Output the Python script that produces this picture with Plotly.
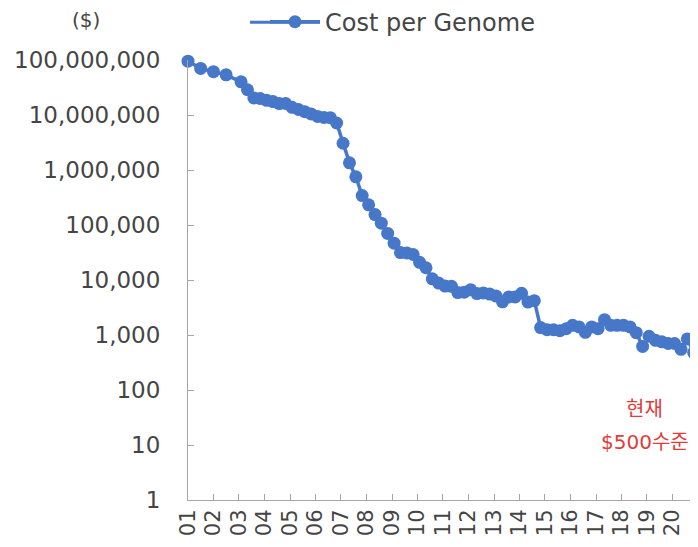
import plotly.graph_objects as go

# -- Cost per genome (USD)
datas = [
	"2001-09-01", "2002-03-01", "2002-09-01", "2003-03-01", "2003-10-01",
	"2004-01-01", "2004-04-01", "2004-07-01", "2004-10-01",
	"2005-01-01", "2005-04-01", "2005-07-01", "2005-10-01",
	"2006-01-01", "2006-04-01", "2006-07-01", "2006-10-01",
	"2007-01-01", "2007-04-01", "2007-07-01", "2007-10-01",
	"2008-01-01", "2008-04-01", "2008-07-01", "2008-10-01",
	"2009-01-01", "2009-04-01", "2009-07-01", "2009-10-01",
	"2010-01-01", "2010-04-01", "2010-07-01", "2010-10-01",
	"2011-01-01", "2011-04-01", "2011-07-01", "2011-10-01",
	"2012-01-01", "2012-04-01", "2012-07-01", "2012-10-01",
	"2013-01-01", "2013-04-01", "2013-07-01", "2013-10-01",
	"2014-01-01", "2014-04-01", "2014-07-01", "2014-10-01",
	"2015-01-01", "2015-04-01", "2015-07-01", "2015-10-01",
	"2016-01-01", "2016-04-01", "2016-07-01", "2016-10-01",
	"2017-01-01", "2017-04-01", "2017-07-01", "2017-10-01",
	"2018-01-01", "2018-04-01", "2018-07-01", "2018-10-01",
	"2019-01-01", "2019-04-01", "2019-07-01", "2019-10-01",
	"2020-01-01", "2020-04-01", "2020-07-01", "2020-10-01",
	"2021-01-01", "2021-04-01", "2021-07-01",
]
custo = [
	95263072, 70175437, 61448422, 53751684, 40153808,
	28780376, 20442576, 19934346, 18519312,
	17534970, 16159699, 16180224, 13801124,
	12585659, 11455315, 10474556, 9408739,
	9047003, 8927342, 7147571, 3063820,
	1352982, 752080, 342502, 232735,
	154714, 108065, 70333, 46774,
	31512, 31125, 29092, 20963,
	16712, 10497, 8786, 7743,
	7666, 5901, 5985, 6618,
	5671, 5826, 5550, 5096,
	4008, 4920, 4905, 5731,
	3970, 4211, 1363, 1245,
	1245, 1200, 1300, 1500,
	1400, 1120, 1400, 1300,
	1900, 1500, 1500, 1500,
	1400, 1100, 620, 950,
	800, 750, 700, 700,
	550, 850, 480,
]

# -- rótulos dos anos no eixo x
anos_ticks = [
	"2001-09-01", "2002-09-01", "2003-09-01", "2004-09-01", "2005-09-01",
	"2006-09-01", "2007-09-01", "2008-09-01", "2009-09-01", "2010-09-01",
	"2011-09-01", "2012-09-01", "2013-09-01", "2014-09-01", "2015-09-01",
	"2016-09-01", "2017-09-01", "2018-09-01", "2019-09-01", "2020-09-01",
]
anos_texto = ["01", "02", "03", "04", "05", "06", "07", "08", "09", "10",
			  "11", "12", "13", "14", "15", "16", "17", "18", "19", "20"]

azul = "#4677C8"
cinza = "#A6A6A6"
texto = "#454545"
vermelho = "#E03C3C"
fonte = "DejaVu Sans"

fig = go.Figure()
fig.add_trace(go.Scatter(
	x=datas,
	y=custo,
	mode="lines+markers",
	name="Cost per Genome",
	line=dict(color=azul, width=3.5),
	marker=dict(color=azul, size=13),
	cliponaxis=False,
))

# -- a página tem 8px de margem no body, por isso 690x539
fig.update_layout(
	width=690,
	height=539,
	margin=dict(l=180, r=0, t=52, b=47, autoexpand=False),
	paper_bgcolor="white",
	plot_bgcolor="white",
	font=dict(family=fonte, color=texto, size=21),
	showlegend=True,
	legend=dict(
		orientation="h",
		x=0.151, xanchor="left",
		y=1.086, yanchor="middle",
		itemwidth=50,
		font=dict(size=24, color=texto),
		bgcolor="rgba(0,0,0,0)",
	),
	xaxis=dict(
		type="date",
		range=["2001-09-01", "2021-09-01"],
		tickvals=anos_ticks,
		ticktext=anos_texto,
		tickangle=-90,
		ticks="inside",
		ticklen=6,
		tickcolor=cinza,
		showline=True,
		linecolor=cinza,
		linewidth=1,
		showgrid=False,
		zeroline=False,
		automargin=False,
		tickfont=dict(size=21, color=texto),
	),
	yaxis=dict(
		type="log",
		range=[0, 8],
		dtick=1,
		tickformat=",d",
		ticks="inside",
		ticklen=6,
		tickcolor=cinza,
		showline=True,
		linecolor=cinza,
		linewidth=1,
		showgrid=False,
		zeroline=False,
		automargin=False,
		ticklabelstandoff=22,
		tickfont=dict(size=23, color=texto),
	),
)

# -- linha mais longa do símbolo da legenda
fig.add_shape(
	type="line", xref="paper", yref="paper",
	x0=0.1216, x1=0.2588, y0=1.086, y1=1.086,
	line=dict(color=azul, width=3),
)

fig.add_annotation(
	text="($)", xref="paper", yref="paper", x=-0.2, y=1.091,
	xanchor="center", yanchor="middle",
	showarrow=False, font=dict(size=20, color=texto),
)
fig.add_annotation(
	text="현재", xref="paper", yref="paper", x=0.896, y=0.211,
	xanchor="center", yanchor="middle",
	showarrow=False, font=dict(family="Noto Sans CJK KR", size=20, color=vermelho),
)
fig.add_annotation(
	text="<span style='font-family:DejaVu Sans'>$500</span>수준",
	xref="paper", yref="paper", x=0.896, y=0.136,
	xanchor="center", yanchor="middle",
	showarrow=False, font=dict(family="Noto Sans CJK KR", size=20, color=vermelho),
)

fig.write_html("out.html")
